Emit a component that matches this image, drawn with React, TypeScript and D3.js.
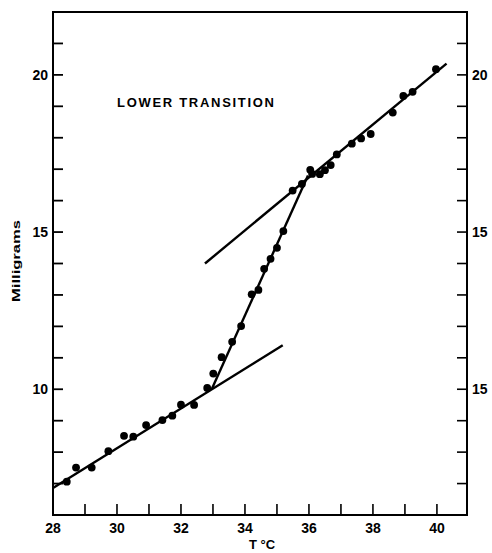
import React from 'react'
import * as d3 from 'd3'

const temps = [28.43, 28.72, 29.21, 29.73, 30.22, 30.51, 30.91, 31.42, 31.73, 32.0, 32.41, 32.82,
  33.01, 33.27, 33.6, 33.88, 34.21, 34.42, 34.6, 34.8, 35.0, 35.2,
  35.49, 35.78, 36.04, 36.1, 36.34, 36.5, 36.68, 36.87, 37.34, 37.63, 37.93, 38.62, 38.95, 39.24, 39.97]
const mgs = [7.06, 7.51, 7.51, 8.03, 8.52, 8.49, 8.86, 9.02, 9.16, 9.51, 9.5, 10.04,
  10.5, 11.02, 11.51, 12.01, 13.02, 13.16, 13.83, 14.15, 14.5, 15.03,
  16.32, 16.53, 16.98, 16.85, 16.84, 16.97, 17.13, 17.47, 17.81, 17.98, 18.12, 18.8, 19.33, 19.46, 20.18]

// fitted lines [x0, y0, x1, y1]
const lowerFit = [28, 6.86, 35.18, 11.4]
const upperFit = [32.75, 14.0, 40.3, 20.36]
const steepFit = [32.96, 10.0, 35.97, 16.8]

const xTicks = d3.range(28, 41)
const xLabels = [28, 30, 32, 34, 36, 38, 40]
const yTicks = d3.range(7, 22)
const leftLabels = [10, 15, 20]
const rightLabels = [
  { v: 10, t: '15' },
  { v: 15, t: '15' },
  { v: 20, t: '20' },
]

export default function App() {
  const W = 492
  const H = 553
  const left = 53, right = 467, top = 12, bottom = 515

  const x = d3.scaleLinear().domain([28, 40.94]).range([left, right])
  const y = d3.scaleLinear().domain([6, 22]).range([bottom, top])

  const font = '"Liberation Sans", Arial, sans-serif'
  const fits = [lowerFit, upperFit, steepFit]

  return (
    <svg width={W} height={H} style={{ position: 'absolute', left: 0, top: 0, background: '#fff' }}>
      {/* frame */}
      <rect x={left} y={top} width={right - left} height={bottom - top} fill="none" stroke="#000" strokeWidth={2} />

      {/* bottom ticks */}
      {xTicks.map(t => (
        <line key={'xt' + t} x1={x(t)} x2={x(t)} y1={bottom} y2={bottom - 11} stroke="#000" strokeWidth={1.6} />
      ))}
      {xLabels.map(t => (
        <text key={'xl' + t} x={x(t)} y={533} textAnchor="middle" fontFamily={font} fontWeight="bold" fontSize={14}>{t}</text>
      ))}

      {/* left and right ticks */}
      {yTicks.map(t => (
        <g key={'yt' + t}>
          <line x1={left} x2={left + 10} y1={y(t)} y2={y(t)} stroke="#000" strokeWidth={1.8} />
          <line x1={right} x2={right - 10} y1={y(t)} y2={y(t)} stroke="#000" strokeWidth={1.6} />
        </g>
      ))}
      {leftLabels.map(t => (
        <text key={'ll' + t} x={48} y={y(t) + 5} textAnchor="end" fontFamily={font} fontWeight="bold" fontSize={14}>{t}</text>
      ))}
      {rightLabels.map(d => (
        <text key={'rl' + d.v} x={472} y={y(d.v) + 5} textAnchor="start" fontFamily={font} fontWeight="bold" fontSize={14}>{d.t}</text>
      ))}

      {/* fitted lines */}
      {fits.map((f, i) => (
        <line key={'f' + i} x1={x(f[0])} y1={y(f[1])} x2={x(f[2])} y2={y(f[3])} stroke="#000" strokeWidth={2.4} />
      ))}

      {/* data points */}
      {temps.map((t, i) => (
        <circle key={'p' + i} cx={x(t)} cy={y(mgs[i])} r={3.9} fill="#000" />
      ))}

      <text x={117} y={107} fontFamily={font} fontWeight="bold" fontSize={13} textLength={157} lengthAdjust="spacing">LOWER TRANSITION</text>
      <text transform="translate(20,261) rotate(-90)" textAnchor="middle" fontFamily={font} fontWeight="bold" fontSize={11} textLength={82} lengthAdjust="spacingAndGlyphs">Milligrams</text>
      <text x={262} y={549} textAnchor="middle" fontFamily={font} fontWeight="bold" fontSize={13}>T °C</text>
    </svg>
  )
}
